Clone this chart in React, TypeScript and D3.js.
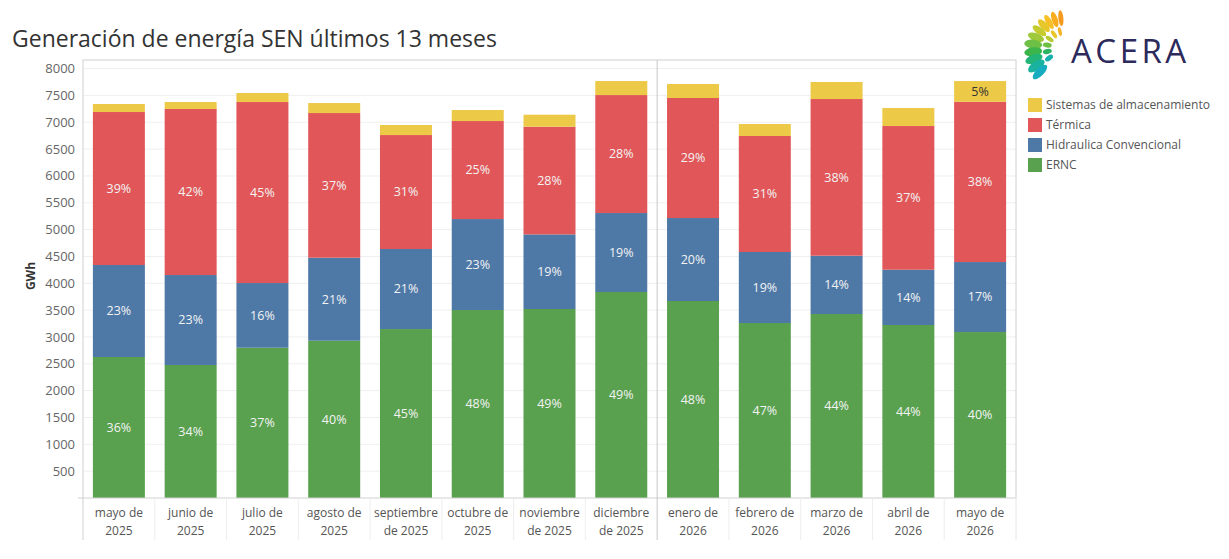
import React from 'react';
import * as d3 from 'd3';

const months = [
  'mayo de\n2025', 'junio de\n2025', 'julio de\n2025', 'agosto de\n2025',
  'septiembre\nde 2025', 'octubre de\n2025', 'noviembre\nde 2025', 'diciembre\nde 2025',
  'enero de\n2026', 'febrero de\n2026', 'marzo de\n2026', 'abril de\n2026', 'mayo de\n2026',
];

// GWh por tecnología
const ernc = [2627, 2478, 2800, 2930, 3148, 3502, 3521, 3838, 3670, 3260, 3428, 3223, 3092];
const hidro = [1714, 1676, 1205, 1547, 1491, 1695, 1390, 1471, 1546, 1323, 1086, 1030, 1304];
const termica = [2850, 3093, 3372, 2695, 2123, 1826, 2006, 2198, 2236, 2161, 2919, 2677, 2985];
const almacenamiento = [149, 130, 168, 186, 187, 205, 224, 261, 261, 223, 317, 335, 387];

const yTicks = [500, 1000, 1500, 2000, 2500, 3000, 3500, 4000, 4500, 5000, 5500, 6000, 6500, 7000, 7500, 8000];

const seriesDefs = [
  { key: 'ernc', name: 'ERNC', values: ernc, color: '#59a14f', text: '#f3f3f3' },
  { key: 'hidro', name: 'Hidraulica Convencional', values: hidro, color: '#4e79a7', text: '#f3f3f3' },
  { key: 'termica', name: 'Térmica', values: termica, color: '#e15759', text: '#f3f3f3' },
  { key: 'alm', name: 'Sistemas de almacenamiento', values: almacenamiento, color: '#edc948', text: '#333333' },
];

// logo petals: angle (deg, 0 = left), distance, rx, ry, color
const petals = [
  [-84, 30, 2.5, 8, '#f39a1f'], [-72, 30, 3, 8, '#f7ad1e'], [-60, 30, 3, 8, '#f6c026'],
  [-48, 30, 3.5, 8, '#e5c72a'], [-35, 30, 3.5, 8, '#c6cc2f'], [-21, 30, 4, 8.5, '#9fc93a'],
  [-7, 31, 4.5, 9, '#6dbf45'], [7, 31, 4.5, 9, '#3cb64a'], [20, 32, 4.5, 9, '#23b577'],
  [33, 33, 4.5, 9.5, '#19b3a0'], [45, 34, 4, 9.5, '#16acc0'],
  [-76, 17, 1.8, 4.5, '#f5b42a'], [-54, 17, 2, 4.5, '#e9c62c'], [-32, 17, 2.2, 4.5, '#b8ca33'],
  [-10, 17, 2.5, 4.5, '#6fbf45'], [12, 17, 2.5, 4.5, '#2eb562'], [34, 18, 2.5, 4.5, '#1aafae'],
] as const;

const FONT = '"Open Sans", "Noto Sans", sans-serif';

export default function App() {
  const width = 1229;
  const height = 559;
  const plot = { left: 83, right: 1016, top: 60, bottom: 498, header: 540 };

  const x = d3.scaleBand<string>()
    .domain(months)
    .range([plot.left, plot.right])
    .paddingInner(0.2755)
    .paddingOuter(0.2755 / 2);

  const y = d3.scaleLinear().domain([0, 8160]).range([plot.bottom, plot.top]);

  const table = months.map((m, i) => {
    const row: Record<string, number | string> = { month: m };
    seriesDefs.forEach(s => { row[s.key] = s.values[i]; });
    return row;
  });
  const stack = d3.stack<Record<string, number | string>>().keys(seriesDefs.map(s => s.key));
  const stacked = stack(table as any);
  const totals = months.map((_, i) => seriesDefs.reduce((a, s) => a + s.values[i], 0));

  const step = x.step();
  const divider = plot.left + step * 8;

  return (
    <div style={{ position: 'absolute', left: 0, top: 0 }}>
      <svg width={width} height={height} style={{ display: 'block', background: '#fff' }} fontFamily={FONT}>
        <text x={12} y={47} fontSize={23} fill="#333">Generación de energía SEN últimos 13 meses</text>

        {/* gridlines */}
        {yTicks.map(t => (
          <line key={t} x1={plot.left} x2={plot.right} y1={y(t)} y2={y(t)} stroke="#efefef" strokeWidth={1} />
        ))}

        {/* y labels */}
        {yTicks.map(t => (
          <text key={'l' + t} x={75} y={y(t)} dy="0.35em" textAnchor="end" fontSize={13} fill="#666">{t}</text>
        ))}
        <text transform={`translate(35,276) rotate(-90)`} textAnchor="middle" fontSize={12} fontWeight="bold" fill="#333">GWh</text>

        {/* bars */}
        {stacked.map((layer, si) => {
          const s = seriesDefs[si];
          return (
            <g key={s.key}>
              {layer.map((d, i) => {
                const y0 = y(d[0]);
                const y1 = y(d[1]);
                const h = y0 - y1;
                const pct = Math.round((s.values[i] / totals[i]) * 100);
                return (
                  <g key={i}>
                    <rect x={x(months[i])} y={y1} width={x.bandwidth()} height={h} fill={s.color} />
                    {h >= 20 && (
                      <text x={(x(months[i]) || 0) + x.bandwidth() / 2} y={(y0 + y1) / 2} dy="0.35em"
                        textAnchor="middle" fontSize={12.5} fill={s.text}>{pct}%</text>
                    )}
                  </g>
                );
              })}
            </g>
          );
        })}

        {/* frame */}
        <rect x={plot.left} y={plot.top} width={plot.right - plot.left} height={plot.bottom - plot.top}
          fill="none" stroke="#d0d0d0" strokeWidth={1} />
        <line x1={78} x2={plot.left} y1={plot.bottom} y2={plot.bottom} stroke="#d0d0d0" />
        {months.map((m, i) => i > 0 && i !== 8 && (
          <line key={'sep' + i} x1={plot.left + step * i} x2={plot.left + step * i}
            y1={plot.bottom} y2={plot.header} stroke="#eeeeee" />
        ))}
        <line x1={plot.left} x2={plot.left} y1={plot.bottom} y2={plot.header} stroke="#d0d0d0" />
        <line x1={plot.right} x2={plot.right} y1={plot.bottom} y2={plot.header} stroke="#e6e6e6" />
        <line x1={divider} x2={divider} y1={plot.top} y2={plot.header} stroke="#c8c8c8" />

        {/* x labels */}
        {months.map(m => {
          const cx = (x(m) || 0) + x.bandwidth() / 2;
          const lines = m.split('\n');
          return (
            <text key={'x' + m} x={cx} y={517} textAnchor="middle" fontSize={12} fill="#555">
              {lines.map((ln, k) => (
                <tspan key={k} x={cx} dy={k === 0 ? 0 : 18}>{ln}</tspan>
              ))}
            </text>
          );
        })}

        {/* logo */}
        <g transform="translate(1064,48)">
          {petals.map(([a, r, rx, ry, c], i) => {
            const rad = ((180 + a) * Math.PI) / 180;
            const px = Math.cos(rad) * r;
            const py = Math.sin(rad) * r * -1;
            return (
              <ellipse key={i} cx={px} cy={py} rx={rx} ry={ry} fill={c}
                transform={`rotate(${-a + 90},${px},${py})`} />
            );
          })}
        </g>
        <text x={1071} y={63} fontSize={33} letterSpacing={3.5} fill="#2d2a5c">ACERA</text>

        {/* legend */}
        {[...seriesDefs].reverse().map((s, i) => (
          <g key={'lg' + s.key} transform={`translate(1028,${98 + i * 20})`}>
            <rect width={14} height={14} fill={s.color} />
            <text x={18} y={7} dy="0.35em" fontSize={12} fill="#555">{s.name}</text>
          </g>
        ))}
      </svg>
    </div>
  );
}
